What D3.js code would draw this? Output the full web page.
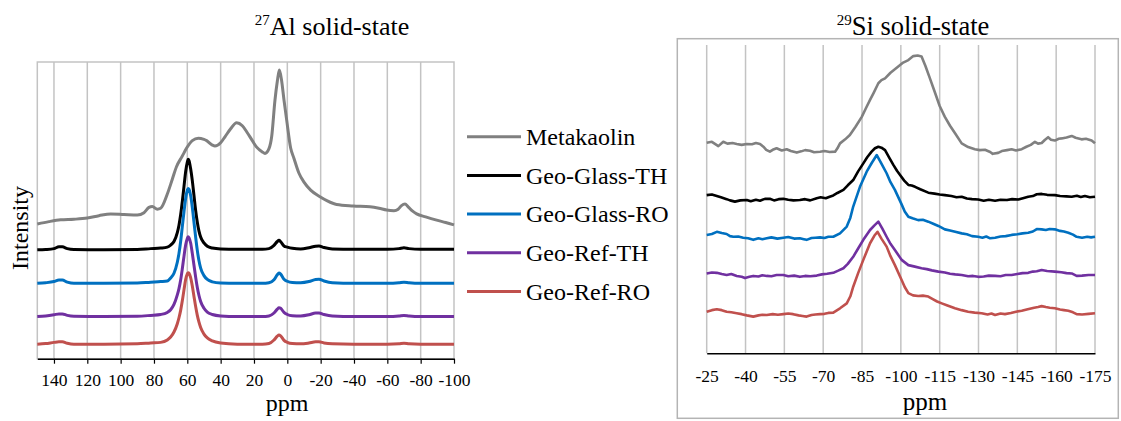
<!DOCTYPE html>
<html>
<head>
<meta charset="utf-8">
<script src="https://cdn.jsdelivr.net/npm/d3@7"></script>
<style>
  html, body { margin: 0; padding: 0; background: #fff; }
  svg, svg text { font-family: "Liberation Serif", "Times New Roman", serif; }
  svg { display: block; }
</style>
</head>
<body>
<svg id="chart" width="1121" height="421"></svg>
<script>
// ---------- 27Al spectra: [ppm, intensity (stacked, arbitrary units)] ----------
const alMetakaolin = [
  [150,45.4],[143,46.2],[136,46.8],[128,47.0],[120,47.4],[113,48.2],[106,48.8],[98,48.6],[90,48.4],
  [86,49.2],[83,51.0],[81,51.3],[78,50.4],[76,50.7],[72,55.5],[69,60.5],[66.5,64.7],[63,68.3],
  [60.5,70.9],[57,73.5],[53.4,74.3],[50,73.9],[48.4,73.5],[45,72.0],[43.4,71.7],[40,72.8],[37.4,74.8],
  [34,77.5],[30.4,79.5],[27,78.5],[24.4,76.5],[21,73.5],[18.4,71.3],[15,69.7],[13.4,69.2],[11,70.8],
  [9.4,74.8],[7.4,87.2],[6,93.5],[4.8,97.3],[3.5,94],[2,87.2],[0.4,80.5],[-2,71],[-4,67.5],[-7,62.5],
  [-10,59.5],[-14,56.8],[-19.6,54.6],[-24,53.2],[-29.6,52.0],[-39.6,51.5],[-49.6,51.2],[-55,50.7],
  [-59.6,50.1],[-64,49.9],[-66.5,50.4],[-68.5,51.6],[-70.6,52.1],[-72.5,51.2],[-75,49.8],[-77.6,48.8],
  [-83,47.8],[-89.6,46.7],[-95,45.9],[-100,45.1]
];
const alGeoGlassTH = [
  [150,36.7],[145,36.8],[140,37.1],[137,37.7],[135,37.7],[132,37.1],[128,36.8],[110,36.7],[90,36.8],
  [82,37.1],[76,37.3],[72,37.6],[70,38.3],[68,39.5],[66,42.5],[65,45],[64,48.5],[63,53],[62,58],
  [61,63],[60,66.3],[59.5,67.2],[59,66.8],[58,64],[57,60],[56,55],[55,50],[54,46],[53,43],[52,41],
  [50,39],[48,37.9],[45,37.3],[40,37.0],[30,36.9],[15,36.9],[11,37.1],[8,38.2],[6,39.5],[5,39.9],
  [4,39.4],[2,38.0],[0,37.6],[-3,37.2],[-8,37.0],[-13,37.4],[-17,37.9],[-19,38.0],[-22,37.5],[-27,37.0],
  [-40,36.9],[-60,36.9],[-67,37.1],[-70,37.4],[-73,37.1],[-80,36.9],[-100,36.9]
];
const alGeoGlassRO = [
  [150,25.4],[145,25.6],[140,26.0],[137,26.5],[135,26.5],[132,25.8],[128,25.4],[110,25.4],[90,25.5],
  [82,25.8],[76,26.0],[72,26.2],[70,27.2],[68,28.8],[66,32.5],[65,35.5],[64,39.5],[63,44.5],[62,49.5],
  [61,54],[60,56.8],[59.5,57.4],[59,57.1],[58,55],[57,51],[56,46],[55,41],[54,36.5],[53,33],[52,30.5],
  [50,28],[48,26.7],[45,25.9],[40,25.5],[30,25.4],[15,25.4],[11,25.6],[8,26.6],[6,28.3],[5,28.9],
  [4,28.5],[2,26.8],[0,26.1],[-3,25.7],[-8,25.6],[-13,26.0],[-17,26.7],[-19,26.8],[-22,26.2],[-27,25.6],
  [-40,25.4],[-60,25.4],[-67,25.6],[-70,25.8],[-73,25.6],[-80,25.4],[-100,25.4]
];
const alGeoRefTH = [
  [150,14.2],[145,14.4],[140,14.8],[137,15.1],[135,15.1],[132,14.6],[128,14.3],[110,14.2],[90,14.3],
  [82,14.6],[76,14.9],[72,15.6],[70,16.5],[68,18.3],[66,21.5],[65,23.6],[64,26.5],[63,30.3],[62,34.5],
  [61,38.3],[60,40.5],[59.5,41.1],[59,40.8],[58,39],[57,35.5],[56,31.5],[55,27.5],[54,24],[53,21.3],
  [52,19.3],[50,17.0],[48,15.7],[45,14.9],[40,14.4],[30,14.2],[15,14.2],[11,14.4],[8,15.4],[6,16.7],
  [5,17.2],[4,17.0],[2,15.6],[0,14.9],[-3,14.5],[-8,14.4],[-13,14.8],[-17,15.4],[-19,15.4],[-22,14.9],
  [-27,14.4],[-40,14.2],[-60,14.2],[-67,14.4],[-70,14.6],[-73,14.4],[-80,14.2],[-100,14.2]
];
const alGeoRefRO = [
  [150,4.9],[145,5.1],[140,5.5],[137,5.7],[135,5.7],[132,5.2],[128,4.9],[110,4.85],[90,5.0],
  [82,5.3],[76,5.5],[72,6.3],[70,7.3],[68,9.0],[66,11.8],[65,13.8],[64,16.3],[63,19.5],[62,23.2],
  [61,26.7],[60,28.6],[59.5,29.0],[59,28.8],[58,27.3],[57,24.5],[56,21.0],[55,17.6],[54,14.6],[53,12.3],
  [52,10.5],[50,8.3],[48,7.0],[45,6.0],[40,5.3],[30,4.9],[15,4.85],[11,5.1],[8,6.3],[6,7.6],
  [5,8.0],[4,7.7],[2,6.2],[0,5.5],[-3,5.1],[-8,5.0],[-13,5.3],[-17,5.7],[-19,5.7],[-22,5.3],
  [-27,5.0],[-40,4.85],[-60,4.85],[-67,5.0],[-70,5.2],[-73,5.0],[-80,4.85],[-100,4.85]
];

// ---------- 29Si spectra: [ppm, intensity (stacked, arbitrary units)] ----------
const siMetakaolin = [
  [-25,68.3],[-27,68.6],[-29.5,67.2],[-31.4,68.6],[-33,68.0],[-35,68.2],[-36.6,67.9],[-38.5,67.6],
  [-40.5,67.9],[-42.5,67.8],[-44,68.2],[-45.6,67.9],[-46.9,67.0],[-48,66.0],[-49.4,65.4],[-50.5,66.0],
  [-52,66.5],[-54,65.8],[-55.9,66.2],[-57.5,65.6],[-59.8,65.1],[-61.5,65.5],[-63,65.9],[-64.9,65.7],
  [-66.5,65.2],[-68.8,65.4],[-70.5,65.6],[-72.5,65.3],[-74.6,65.4],[-75.5,66.5],[-76.5,68.1],[-78.5,69.4],
  [-80.3,70.8],[-82.5,73.5],[-84.9,76.7],[-86.5,79.5],[-88.1,82.2],[-89.5,84.5],[-91.3,87.6],[-92.5,88.6],
  [-93.9,89.2],[-96,91.0],[-98.4,92.6],[-100.9,94.3],[-102.9,95.1],[-104.8,96.4],[-106.5,96.6],[-108,96.3],
  [-109.5,93.2],[-111.3,89.0],[-113,85.0],[-115,80.2],[-117,76.7],[-119,73.8],[-121,71.3],[-123.5,68.1],
  [-126,66.9],[-128.6,66.2],[-130.5,65.9],[-132.5,66.0],[-134.5,65.3],[-135.5,64.7],[-137.6,65.0],
  [-139,65.6],[-141,65.9],[-142.8,66.2],[-144.5,65.8],[-146.7,66.2],[-148.5,67.0],[-150.2,67.6],
  [-151.8,68.6],[-153,68.0],[-154.4,68.2],[-155.6,69.2],[-156.9,70.1],[-158,69.3],[-159.5,69.0],
  [-161,69.6],[-162.1,69.7],[-164,70.0],[-166,70.5],[-167.5,69.9],[-169.8,69.4],[-171.5,69.6],
  [-173.7,69.0],[-175,68.1]
];
const siGeoGlassTH = [
  [-25,51.3],[-27,51.5],[-28.9,51.0],[-30.5,50.6],[-32.7,50.0],[-34,49.6],[-35.9,49.2],[-38,49.6],
  [-40.5,49.7],[-42,49.3],[-44,49.8],[-45.6,49.5],[-47.5,50.1],[-49.4,50.1],[-51,49.6],[-52.8,50.0],
  [-54.6,50.1],[-56.5,49.8],[-58.5,49.6],[-61,49.7],[-63,50.0],[-65,49.6],[-67.5,50.3],[-69,50.6],
  [-71,50.3],[-72.5,50.8],[-73.9,51.2],[-75.5,52.0],[-77.8,53.0],[-79.5,54.5],[-81.6,56.2],[-83.5,59.0],
  [-85.5,61.6],[-87,63.6],[-88.7,65.4],[-90,66.5],[-91.3,67.0],[-92.5,66.7],[-93.9,65.9],[-95.5,63.5],
  [-97.1,61.1],[-98.5,59.2],[-99.7,57.8],[-101.3,56.0],[-102.9,54.6],[-104.2,54.4],[-105.5,54.0],
  [-107.5,53.2],[-110.6,52.1],[-113,51.8],[-115,51.5],[-117,51.3],[-119.5,51.0],[-121.5,50.6],
  [-123.5,50.8],[-125.5,50.2],[-127.5,50.0],[-129.9,49.9],[-132,49.5],[-134,49.8],[-136.4,49.5],
  [-138.5,49.8],[-141,49.7],[-143,50.0],[-145.4,49.9],[-147.5,50.4],[-149.2,50.8],[-151,51.0],
  [-152.5,51.6],[-154.4,51.7],[-156.5,51.4],[-159.5,51.3],[-161.5,51.0],[-164,50.9],[-166,50.8],
  [-168,51.1],[-169.5,50.7],[-171.1,51.0],[-173,50.6],[-175,50.8]
];
const siGeoGlassRO = [
  [-25,38.4],[-27,38.7],[-28.9,39.4],[-30.8,39.0],[-32.7,38.7],[-34,38.0],[-35.3,37.8],[-37.2,37.9],
  [-39.1,37.5],[-41,37.3],[-43,36.8],[-45,37.3],[-46.5,37.0],[-48.2,37.3],[-50,37.6],[-52.3,37.2],
  [-54.6,37.5],[-56.5,37.7],[-58.8,37.2],[-61,37.3],[-62.5,37.0],[-63.6,36.8],[-65.5,37.4],[-67,37.5],
  [-68.8,37.6],[-70.5,37.4],[-72,37.8],[-73.9,37.8],[-76.5,38.9],[-79.1,41.1],[-80.5,44.0],[-81.6,47.6],
  [-84.2,54.0],[-86.8,58.9],[-88.8,61.8],[-90.7,64.3],[-92.5,61.5],[-94.5,58.4],[-96,55.5],[-97.7,53.0],
  [-100.3,48.3],[-101.5,46.0],[-102.9,44.3],[-104.5,43.8],[-106.7,43.2],[-108.5,43.3],[-110.6,42.7],
  [-112.5,42.0],[-114.5,41.3],[-117,40.2],[-119,39.8],[-121,39.4],[-123.5,38.9],[-125.5,38.6],
  [-127.5,38.0],[-129.9,37.8],[-131.5,37.5],[-133,37.9],[-134.5,37.3],[-136.4,37.5],[-138.5,37.9],
  [-140.5,38.0],[-142.8,38.4],[-145,38.6],[-147,38.9],[-149.2,39.1],[-151,39.5],[-152.5,40.3],
  [-154.4,40.2],[-156,40.0],[-157.5,40.3],[-159.5,40.2],[-161.5,39.7],[-163,39.5],[-164.7,39.1],
  [-166.5,38.5],[-167.9,37.8],[-170,37.5],[-172,37.8],[-173.5,37.6],[-175,37.8]
];
const siGeoRefTH = [
  [-25,25.9],[-27,26.2],[-28.9,26.1],[-30.8,25.7],[-32.7,25.4],[-34.5,25.7],[-36.6,25.1],[-38.5,24.8],
  [-39.8,24.4],[-41.5,24.8],[-43,25.1],[-45,24.9],[-46.5,25.3],[-48.2,25.1],[-50,25.0],[-52,25.4],
  [-54.6,25.4],[-56.5,25.0],[-58.8,25.2],[-61,24.8],[-63,25.1],[-65,25.0],[-67.5,25.2],[-69.5,25.6],
  [-71.5,25.8],[-73.9,26.1],[-75.8,26.8],[-77.8,27.6],[-79.5,29.0],[-81.6,31.3],[-83.5,34.0],[-85.5,36.8],
  [-88.1,40.0],[-89.8,41.5],[-91.3,42.7],[-92.8,40.5],[-94.5,37.8],[-96,35.5],[-97.7,33.5],[-100.3,30.3],
  [-102.9,28.6],[-105,28.2],[-108,27.6],[-110,27.3],[-112,26.9],[-114.5,26.5],[-117,26.2],[-119,25.8],
  [-121,25.6],[-123.5,25.4],[-126,25.0],[-127.9,25.1],[-129.9,24.8],[-132,24.9],[-134,25.2],[-136.4,25.1],
  [-138.5,25.0],[-140.5,25.4],[-142.8,25.4],[-145,25.7],[-147,26.0],[-149.2,26.1],[-151,26.5],
  [-152.5,26.6],[-154.4,27.0],[-156.5,26.7],[-159.5,26.5],[-162,26.3],[-164,26.0],[-166,25.9],
  [-167.9,25.1],[-170,25.2],[-172.5,25.4],[-175,25.4]
];
const siGeoRefRO = [
  [-25,13.5],[-27,14.0],[-28.9,14.3],[-30.8,14.0],[-32.7,13.5],[-34.5,13.3],[-36.6,13.0],[-38.5,12.7],
  [-40.5,12.3],[-43,11.9],[-45,12.3],[-46.5,12.5],[-48.2,12.4],[-50.5,12.7],[-52.5,12.5],[-54.6,12.7],
  [-56.5,12.9],[-58.4,12.7],[-60.5,12.3],[-62,12.1],[-63.6,11.9],[-65.5,12.4],[-67,12.6],[-68.8,12.7],
  [-70.5,12.8],[-72,13.1],[-73.9,13.2],[-76.5,14.6],[-79.1,16.2],[-80.5,18.5],[-81.6,21.6],[-83.5,26.0],
  [-85.5,30.3],[-88.1,35.7],[-89.8,38.2],[-91,39.4],[-92.5,37.2],[-94.5,34.6],[-96,31.5],[-97.7,28.6],
  [-100.3,23.8],[-101.5,21.5],[-102.9,19.5],[-104.7,18.8],[-106.7,18.6],[-108.5,18.7],[-110.6,18.4],
  [-112.5,17.5],[-114,16.8],[-115.8,16.2],[-118,15.5],[-120.9,14.6],[-123.5,14.0],[-126,13.5],
  [-128.5,13.2],[-131.2,13.0],[-133.5,12.6],[-135,12.9],[-136.4,12.4],[-138.5,12.9],[-140.2,12.7],
  [-142.5,13.1],[-144.5,13.5],[-146.7,13.8],[-149,14.3],[-151.5,14.8],[-153,15.0],[-154.4,15.3],
  [-156,15.0],[-157.5,14.8],[-159.5,14.6],[-161.5,14.2],[-163,14.0],[-164.7,13.8],[-166.5,13.3],
  [-167.9,12.7],[-170,12.6],[-172.5,12.8],[-175,13.0]
];

// ---------- series names, colours, ticks ----------
const seriesNames = ["Metakaolin", "Geo-Glass-TH", "Geo-Glass-RO", "Geo-Ref-TH", "Geo-Ref-RO"];
const seriesColors = ["#808080", "#000000", "#0070C0", "#7030A0", "#C0504D"];
const alSeries = [alMetakaolin, alGeoGlassTH, alGeoGlassRO, alGeoRefTH, alGeoRefRO];
const siSeries = [siMetakaolin, siGeoGlassTH, siGeoGlassRO, siGeoRefTH, siGeoRefRO];
const alTicks = [140, 120, 100, 80, 60, 40, 20, 0, -20, -40, -60, -80, -100];
const siTicks = [-25, -40, -55, -70, -85, -100, -115, -130, -145, -160, -175];

const serif = '"Liberation Serif", "Times New Roman", serif';
const svg = d3.select("#chart").style("font-family", serif);
const gridColor = "#c3c3c3";
const fmt = d => String(d);

// ================= 27Al panel =================
const xAl = d3.scaleLinear().domain([150, -100]).range([37.3, 454]);
const yAl = d3.scaleLinear().domain([0, 100]).range([358.7, 62]);
const gAl = svg.append("g");

// plot-area frame and vertical gridlines
gAl.append("rect")
  .attr("x", xAl(150)).attr("y", yAl(100))
  .attr("width", xAl(-100) - xAl(150)).attr("height", yAl(0) - yAl(100))
  .attr("fill", "none").attr("stroke", gridColor).attr("stroke-width", 1.5);
gAl.selectAll("line.grid").data(alTicks.filter(t => t !== -100)).join("line")
  .attr("class", "grid")
  .attr("x1", d => xAl(d)).attr("x2", d => xAl(d))
  .attr("y1", yAl(100)).attr("y2", yAl(0))
  .attr("stroke", gridColor).attr("stroke-width", 1.5);

const lineAl = d3.line().x(d => xAl(d[0])).y(d => yAl(d[1])).curve(d3.curveMonotoneX);
gAl.selectAll("path.spec").data(alSeries).join("path")
  .attr("class", "spec")
  .attr("d", lineAl)
  .attr("fill", "none")
  .attr("stroke", (d, i) => seriesColors[i])
  .attr("stroke-width", 3)
  .attr("stroke-linejoin", "round");

const axAl = gAl.append("g").attr("transform", `translate(0,${yAl(0)})`)
  .call(d3.axisBottom(xAl).tickValues(alTicks).tickFormat(fmt).tickSize(5).tickSizeOuter(0).tickPadding(10));
axAl.attr("font-family", null).attr("font-size", null);
axAl.select(".domain").attr("stroke", "#000").attr("stroke-width", 1.5);
axAl.selectAll(".tick line").attr("stroke", "#000").attr("stroke-width", 1.2);
axAl.selectAll("text").style("font-family", serif).style("font-size", "17.5px").attr("fill", "#000");

svg.append("text").attr("x", 287).attr("y", 411).attr("text-anchor", "middle")
  .style("font-size", "24px").text("ppm");
svg.append("text").attr("transform", "translate(28,228) rotate(-90)")
  .attr("text-anchor", "middle").style("font-size", "24px").text("Intensity");

const tAl = svg.append("text").attr("x", 332).attr("y", 34.5).attr("text-anchor", "middle").style("font-size", "26px");
tAl.append("tspan").style("font-size", "15px").attr("dy", -10).text("27");
tAl.append("tspan").attr("dy", 10).text("Al solid-state");

// legend
const legend = svg.append("g");
seriesNames.forEach((name, i) => {
  const y = 136.7 + i * 38.7;
  legend.append("line").attr("x1", 467).attr("x2", 521).attr("y1", y).attr("y2", y)
    .attr("stroke", seriesColors[i]).attr("stroke-width", 3);
  legend.append("text").attr("x", 526).attr("y", y + 8.3).style("font-size", "24px").text(name);
});

// ================= 29Si panel =================
svg.append("rect").attr("x", 677.3).attr("y", 38.7).attr("width", 441).attr("height", 379.6)
  .attr("fill", "none").attr("stroke", "#b4b4b4").attr("stroke-width", 1.5);

const xSi = d3.scaleLinear().domain([-25, -175]).range([706.7, 1095]);
const ySi = d3.scaleLinear().domain([0, 100]).range([353.3, 45]);
const gSi = svg.append("g");

gSi.selectAll("line.grid").data(siTicks).join("line")
  .attr("class", "grid")
  .attr("x1", d => xSi(d)).attr("x2", d => xSi(d))
  .attr("y1", ySi(100)).attr("y2", ySi(0))
  .attr("stroke", gridColor).attr("stroke-width", 1.5);

const lineSi = d3.line().x(d => xSi(d[0])).y(d => ySi(d[1]));
gSi.selectAll("path.spec").data(siSeries).join("path")
  .attr("class", "spec")
  .attr("d", lineSi)
  .attr("fill", "none")
  .attr("stroke", (d, i) => seriesColors[i])
  .attr("stroke-width", 2.6)
  .attr("stroke-linejoin", "round");

const axSi = gSi.append("g").attr("transform", `translate(0,${ySi(0)})`)
  .call(d3.axisBottom(xSi).tickValues(siTicks).tickFormat(fmt).tickSize(0).tickPadding(16));
axSi.attr("font-family", null).attr("font-size", null);
axSi.select(".domain").attr("stroke", "#000").attr("stroke-width", 1.5);
axSi.selectAll("text").style("font-family", serif).style("font-size", "17.5px").attr("fill", "#000");

svg.append("text").attr("x", 925).attr("y", 410).attr("text-anchor", "middle")
  .style("font-size", "25px").text("ppm");

const tSi = svg.append("text").attr("x", 913).attr("y", 34.5).attr("text-anchor", "middle").style("font-size", "26.5px");
tSi.append("tspan").style("font-size", "15px").attr("dy", -10).text("29");
tSi.append("tspan").attr("dy", 10).text("Si solid-state");
</script>
</body>
</html>
